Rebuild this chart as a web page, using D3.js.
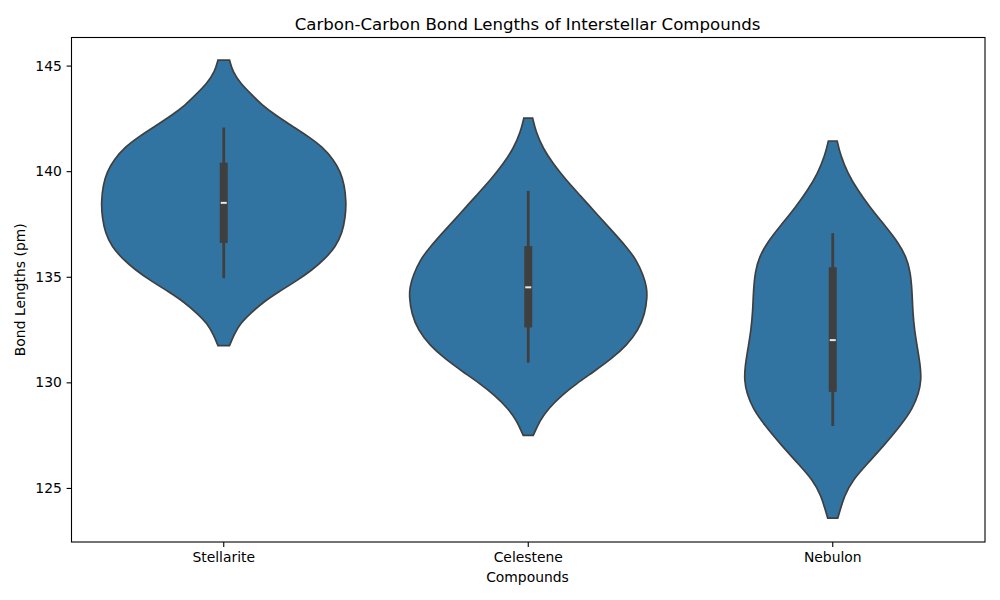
<!DOCTYPE html>
<html>
<head>
<meta charset="utf-8">
<script src="https://d3js.org/d3.v7.min.js"></script>
<style>
body { margin: 0; background: #fff; }
text { font-family: "DejaVu Sans", sans-serif; fill: #000; }
</style>
</head>
<body>
<svg id="svg" width="1000" height="600"></svg>
<script>
const compounds = ["Stellarite", "Celestene", "Nebulon"];
const yTicks = [125, 130, 135, 140, 145];

// outline of each violin: bond length and relative density
const stellariteLen = [145.26,144.71,144.16,143.68,143.13,142.66,142.14,141.63,141.16,140.53,139.97,139.34,138.55,137.84,137.06,136.42,135.87,135.32,134.77,134.29,133.82,133.27,132.80,132.24,131.74];
const stellariteDen = [.047,.073,.136,.218,.313,.422,.558,.694,.803,.898,.953,.985,1,.993,.967,.912,.83,.722,.585,.449,.327,.218,.136,.082,.047];
const celesteneLen = [142.51,141.85,141.06,140.35,139.64,138.86,137.98,137.20,136.41,135.78,135.07,134.51,134.04,133.25,132.46,131.75,131.12,130.49,129.94,129.39,128.75,128.20,127.49];
const celesteneDen = [.036,.063,.122,.204,.3,.422,.558,.681,.803,.885,.939,.967,.971,.953,.898,.803,.681,.531,.395,.273,.163,.096,.041];
const nebulonLen = [141.43,140.76,139.90,139.11,138.32,137.45,136.66,135.95,135.24,134.29,133.35,132.48,131.53,130.74,130.11,129.48,128.77,127.98,127.04,126.17,125.38,124.67,123.57];
const nebulonDen = [.036,.063,.122,.204,.3,.422,.531,.599,.634,.648,.653,.667,.694,.716,.722,.702,.653,.558,.422,.286,.163,.096,.041];

const whiskerLow = [135, 131, 128];
const whiskerHigh = [142, 139, 137];
const q1 = [136.6, 132.6, 129.55];
const q3 = [140.4, 136.45, 135.45];
const medians = [138.5, 134.5, 132];

const lengths = [stellariteLen, celesteneLen, nebulonLen];
const densities = [stellariteDen, celesteneDen, nebulonDen];

const plotLeft = 71.5, plotRight = 985, plotTop = 37.5, plotBottom = 542;
const svg = d3.select("#svg");

const x = d3.scaleBand().domain(compounds).range([plotLeft, plotRight]);
const y = d3.scaleLinear().domain([122.44, 146.33]).range([plotBottom, plotTop]);
const w = d3.scaleLinear().domain([0, 1]).range([0, 122.5]);

compounds.forEach((c, i) => {
    const cx = x(c) + x.bandwidth() / 2;
    const pts = lengths[i].map((v, k) => ({v: v, d: densities[i][k]}));
    const area = d3.area()
        .y(p => y(p.v))
        .x0(p => cx - w(p.d))
        .x1(p => cx + w(p.d))
        .curve(d3.curveBasis);
    svg.append("path").attr("d", area(pts))
        .attr("fill", "#3274a1").attr("stroke", "#3f3f3f").attr("stroke-width", 1.7);
    svg.append("line").attr("x1", cx).attr("x2", cx)
        .attr("y1", y(whiskerLow[i])).attr("y2", y(whiskerHigh[i]))
        .attr("stroke", "#3f3f3f").attr("stroke-width", 2.8).attr("stroke-linecap", "square");
    svg.append("rect").attr("x", cx - 4).attr("width", 8)
        .attr("y", y(q3[i])).attr("height", y(q1[i]) - y(q3[i]))
        .attr("fill", "#3f3f3f");
    svg.append("line").attr("x1", cx - 3).attr("x2", cx + 3)
        .attr("y1", y(medians[i])).attr("y2", y(medians[i]))
        .attr("stroke", "#e8e8e8").attr("stroke-width", 2);
});

const xAxis = d3.axisBottom(x).tickSize(4.9).tickPadding(4.8);
const yAxis = d3.axisLeft(y).tickValues(yTicks).tickSize(4.9).tickPadding(4.8);

const gx = svg.append("g").attr("transform", `translate(0,${plotBottom})`).call(xAxis);
const gy = svg.append("g").attr("transform", `translate(${plotLeft},0)`).call(yAxis);
[gx, gy].forEach(g => {
    g.select(".domain").remove();
    g.selectAll("line").attr("stroke", "#000").attr("stroke-width", 1.1);
    g.selectAll("text").style("font-size", "13.9px").style("font-family", '"DejaVu Sans"');
});

svg.append("rect").attr("x", plotLeft).attr("y", plotTop)
    .attr("width", plotRight - plotLeft).attr("height", plotBottom - plotTop)
    .attr("fill", "none").attr("stroke", "#000").attr("stroke-width", 1.1);

svg.append("text").attr("x", 527.5).attr("y", 29.5).attr("text-anchor", "middle")
    .style("font-size", "16.6px").text("Carbon-Carbon Bond Lengths of Interstellar Compounds");
svg.append("text").attr("x", 527.5).attr("y", 582).attr("text-anchor", "middle")
    .style("font-size", "13.9px").text("Compounds");
svg.append("text").attr("transform", `translate(25,${(plotTop + plotBottom) / 2}) rotate(-90)`).attr("text-anchor", "middle")
    .style("font-size", "13.9px").text("Bond Lengths (pm)");
</script>
</body>
</html>
